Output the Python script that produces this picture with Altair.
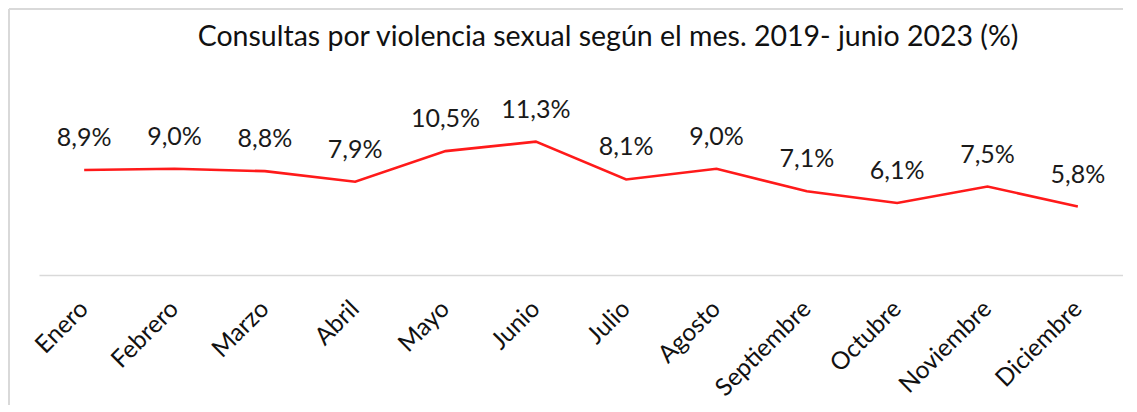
import altair as alt
import pandas as pd

meses = ["Enero", "Febrero", "Marzo", "Abril", "Mayo", "Junio", "Julio",
         "Agosto", "Septiembre", "Octubre", "Noviembre", "Diciembre"]
valores = [8.9, 9.0, 8.8, 7.9, 10.5, 11.3, 8.1, 9.0, 7.1, 6.1, 7.5, 5.8]
titulo = "Consultas por violencia sexual según el mes. 2019- junio 2023 (%)"

df = pd.DataFrame({"mes": meses, "valor": valores})
df["etiqueta"] = [f"{v:.1f}%".replace(".", ",") for v in valores]

W, H = 1084, 177
x = alt.X("mes:N", sort=meses, title=None,
          scale=alt.Scale(paddingInner=0, paddingOuter=0),
          axis=alt.Axis(labelAngle=-45, labelAlign="right", labelBaseline="middle",
                        labelFont="Lato", labelFontSize=24.5, labelColor="#111",
                        labelPadding=30, ticks=False, domainColor="#d9d9d9",
                        domainWidth=1.5, grid=False))
y = alt.Y("valor:Q", scale=alt.Scale(domain=[0, 15], nice=False), axis=None)

line = alt.Chart(df).mark_line(color="#ff1a1a", strokeWidth=2.6).encode(x=x, y=y)
labels = alt.Chart(df).mark_text(font="Lato", fontSize=25, color="#1a1a1a",
                                 baseline="alphabetic", dy=-24).encode(
    x=x, y=y, text="etiqueta:N")

one = pd.DataFrame({"t": [titulo]})
title_mark = alt.Chart(one).mark_text(font="Lato", fontSize=28.5, color="#111",
                                      align="center", baseline="alphabetic").encode(
    x=alt.value(569), y=alt.value(-52), text="t:N")
top_rule = alt.Chart(one).mark_rule(color="#d9d9d9", strokeWidth=2).encode(
    x=alt.value(-30), x2=alt.value(1100), y=alt.value(-89))
left_rule = alt.Chart(one).mark_rule(color="#d9d9d9", strokeWidth=2).encode(
    x=alt.value(-30), y=alt.value(-89), y2=alt.value(320))

chart = alt.layer(top_rule, left_rule, title_mark, line, labels).properties(
    width=W, height=H,
    autosize=alt.AutoSizeParams(type="none"),
    padding={"left": 31, "top": 90, "right": 0, "bottom": 130},
).configure_view(stroke=None)

chart.save("out.html", embed_options={"renderer": "svg", "actions": False})
